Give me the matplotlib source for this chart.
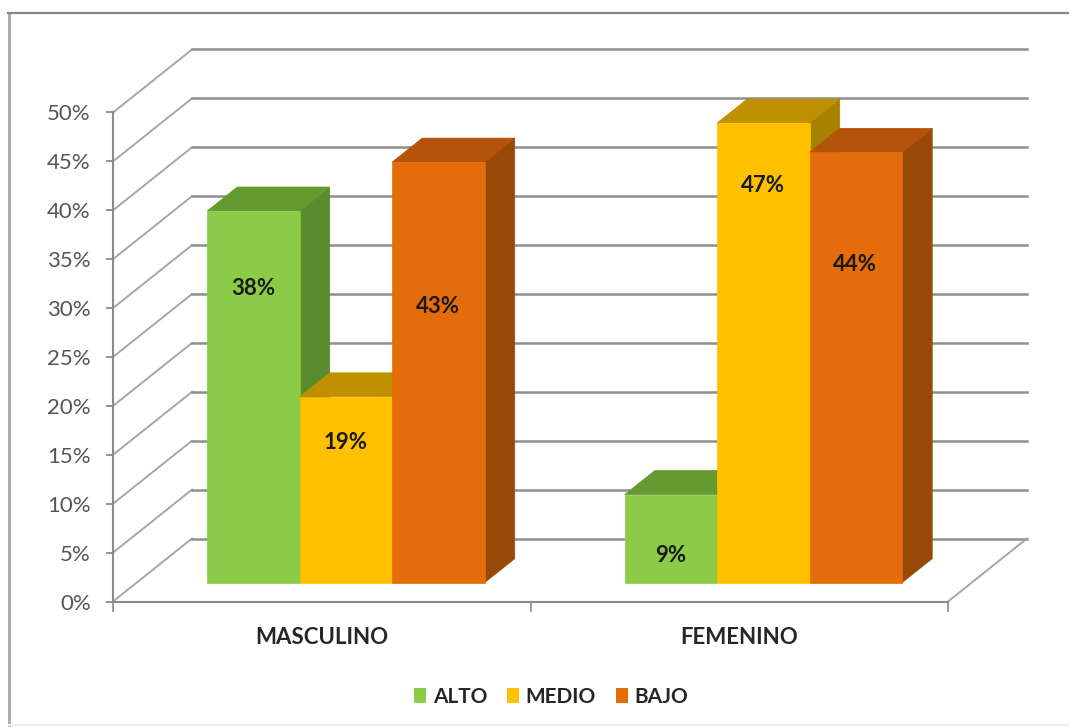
import matplotlib
matplotlib.use("Agg")
import matplotlib.pyplot as plt
from matplotlib.lines import Line2D
from matplotlib.patches import Patch, Polygon

plt.rcParams['font.family'] = ['Lato', 'DejaVu Sans']

W, H = 1069, 727
categories = ["MASCULINO", "FEMENINO"]
series_names = ["ALTO", "MEDIO", "BAJO"]
alto = [38, 9]
medio = [19, 47]
bajo = [43, 44]
values = [alto, medio, bajo]
labels_alto = ["38%", "9%"]
labels_medio = ["19%", "47%"]
labels_bajo = ["43%", "44%"]
point_labels = [labels_alto, labels_medio, labels_bajo]
y_ticks = list(range(0, 51, 5))
y_tick_labels = [f"{v}%" for v in y_ticks]

# styles / geometry (pixels of the reference)
LEFT, RIGHT, Y0, Y50 = 113, 948, 601.5, 112.5
DEPTH_X, DEPTH_Y = 79, 63
FRONT = [("#8CCB47", "#659A31", "#5A8A2E"),
         ("#FFC000", "#BF9000", "#A68200"),
         ("#E46C0A", "#B5530A", "#974A08")]
LABEL_HEIGHT = [[30.1, 2.8], [14.3, 40.6], [28.2, 32.5]]

fig = plt.figure(figsize=(W / 100, H / 100), dpi=100, facecolor="white")
ax = fig.add_axes([LEFT / W, 1 - Y0 / H, (RIGHT - LEFT) / W, (Y0 - Y50) / H])
ax.set_xlim(0, 2)
ax.set_ylim(0, 50)
ax.patch.set_alpha(0)

ux = (RIGHT - LEFT) / 2          # px per category
uy = (Y0 - Y50) / 50             # px per percent
DX = DEPTH_X / ux
DY = DEPTH_Y / uy


def proj(x, y, d):
    """Oblique projection: d=0 front of the floor, d=1 back wall."""
    return x + d * DX, y + d * DY


# walls
for v in y_ticks:
    x0, y0 = proj(0, v, 0)
    x1, y1 = proj(0, v, 1)
    x2, y2 = proj(2, v, 1)
    ax.plot([x0, x1], [y0, y1], color="#a6a6a6", lw=1.4, clip_on=False, zorder=1)
    ax.plot([x1, x2], [y1, y2], color="#8f8f8f", lw=1.8, clip_on=False, zorder=1)
xa, ya = proj(2, 0, 0)
xb, yb = proj(2, 0, 1)
ax.plot([xa, xb], [ya, yb], color="#a6a6a6", lw=1.4, clip_on=False, zorder=1)

# bars
BAR_W = 92.5 / ux
D0, D1 = 0.30, 0.68
SHIFT = 0.5 / ux
for s, vals in enumerate(values):
    fc, tc, sc = FRONT[s]
    for c, v in enumerate(vals):
        xl = c + 0.5 + (s - 1.5) * BAR_W + SHIFT
        xr = xl + BAR_W
        side = [proj(xr, 0, D0), proj(xr, 0, D1), proj(xr, v, D1), proj(xr, v, D0)]
        top = [proj(xl, v, D0), proj(xr, v, D0), proj(xr, v, D1), proj(xl, v, D1)]
        front = [proj(xl, 0, D0), proj(xr, 0, D0), proj(xr, v, D0), proj(xl, v, D0)]
        z = 3 + s
        ax.add_patch(Polygon(side, closed=True, fc=sc, ec=sc, lw=0.5, clip_on=False, zorder=z))
        ax.add_patch(Polygon(top, closed=True, fc=tc, ec=tc, lw=0.5, clip_on=False, zorder=z))
        ax.add_patch(Polygon(front, closed=True, fc=fc, ec=fc, lw=0.5, clip_on=False, zorder=z))
        lx, ly = proj(xl + BAR_W / 2, LABEL_HEIGHT[s][c], D0)
        ax.text(lx - 0.5 / ux, ly, point_labels[s][c], ha="center", va="center",
                fontsize=16, fontweight="bold", color="#1a1a1a", zorder=10)

# axes
for name in ("top", "right"):
    ax.spines[name].set_visible(False)
for name in ("left", "bottom"):
    ax.spines[name].set_color("#8a8a8a")
    ax.spines[name].set_linewidth(1.5)
ax.set_yticks(y_ticks)
ax.set_yticklabels(y_tick_labels, fontsize=16, color="#555555")
ax.tick_params(axis="y", length=5, width=1.3, color="#8a8a8a", pad=11)
ax.set_xticks([0, 1, 2])
ax.set_xticklabels([])
ax.tick_params(axis="x", which="major", length=7, width=1.2, color="#8a8a8a")
ax.set_xticks([0.5, 1.5], minor=True)
ax.set_xticklabels(categories, minor=True, fontsize=16, fontweight="bold", color="#262626")
ax.tick_params(axis="x", which="minor", length=0, pad=18)

# legend
handles = [Patch(fc=FRONT[i][0], ec="none", label=series_names[i]) for i in range(3)]
leg = fig.legend(handles=handles, ncols=3, loc="center",
                 bbox_to_anchor=(551 / W, 1 - 697 / H), frameon=False,
                 prop={"size": 15, "weight": "bold"}, labelcolor="#262626",
                 handlelength=0.6, handleheight=0.7, handletextpad=0.3,
                 columnspacing=0.95, borderpad=0)

# frame of the picture
fig.add_artist(Line2D([9 / W, 9 / W], [0.002, 1 - 13 / H], color="#a8a8a8", lw=2))
fig.add_artist(Line2D([8 / W, 1], [1 - 13 / H, 1 - 13 / H], color="#858585", lw=1.6))
fig.add_artist(Line2D([9 / W, 1], [1 - 724.5 / H, 1 - 724.5 / H], color="#eeeeee", lw=1.5))

fig.savefig("out.png", dpi=100)
